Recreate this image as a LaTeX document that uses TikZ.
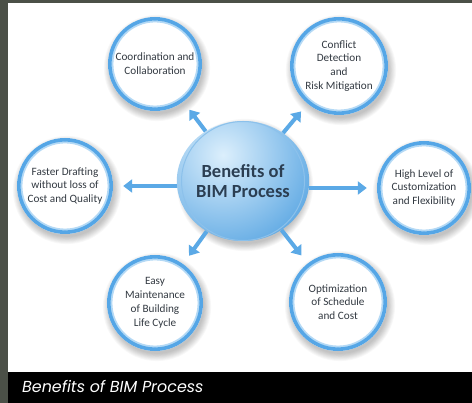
\documentclass[tikz,border=0pt]{standalone}
\usepackage{fontspec}
\setmainfont{Carlito}
\newfontfamily\capfont{Poppins}
\usetikzlibrary{arrows.meta,calc,shapes.geometric}
\definecolor{bggray}{HTML}{4B5047}
\definecolor{ringblue}{HTML}{55A6E6}
\definecolor{ringlight}{HTML}{B4D9F5}
\definecolor{arrblue}{HTML}{5BA9E6}
\definecolor{txt}{HTML}{333A42}
\definecolor{ctxt}{HTML}{2B3E52}
\definecolor{cinner}{HTML}{DCEFFC}
\definecolor{couter}{HTML}{3F97DD}
\tikzset{
  satnode/.style={circle, inner sep=0pt, fill=white, align=center,
    font=\fontsize{11.2}{13.8}\selectfont, text=txt},
  arr/.style={arrblue, line width=4pt, -{Triangle[length=9pt,width=13pt]},
    shorten >=10pt},
}
\newcommand\satel[4]{%
  \foreach \k in {1,...,9}{\fill[black, opacity=0.028] ($(#2)+(2,4)$) circle ({#3+7-\k*0.9});}
  \node[satnode, minimum size={2*#3}] (#1) at (#2) {#4};
  \draw[ringlight, line width=2.2pt] (#1.center) circle ({#3-4.3});
  \draw[ringblue, line width=3.6pt] (#1.center) circle ({#3-1.8});
}
\begin{document}
\begin{tikzpicture}[x=1pt,y=-1pt]
\useasboundingbox (0,0) rectangle (472,403);
\fill[bggray] (0,0) rectangle (472,403);
\fill[white] (8,3) rectangle (472,372);
\fill[black] (8,372) rectangle (472,403);

% satellites
\satel{co}{155,64}{47}{Coordination and\\Collaboration}
\satel{cd}{339,66}{49}{Conflict\\Detection\\and\\Risk Mitigation}
\satel{fd}{65,186}{48}{Faster Drafting\\without loss of\\Cost and Quality}
\satel{hl}{424,188}{47}{High Level of\\Customization\\and Flexibility}
\satel{em}{155,303}{48}{Easy\\Maintenance\\of Building\\Life Cycle}
\satel{os}{338,302}{49}{Optimization\\of Schedule\\and Cost}

% centre
\foreach \k in {1,...,9}{\fill[black, opacity=0.028] (245,185) ellipse ({69-\k*0.9} and {67-\k*0.9});}
\node[ellipse, minimum width=124pt, minimum height=120pt, inner sep=0pt, align=center,
  font=\bfseries\fontsize{18.5}{19.5}\selectfont, text=ctxt,
  path picture={\shade[inner color=cinner, outer color=couter]
    ($(path picture bounding box.center)+(-20,-26)$) circle (125);}]
  (c) at (243,181) {Benefits of\\BIM Process};
\draw[couter!60!white, line width=1pt] (c.center) ellipse (61.5 and 59.5);

% arrows
\draw[arr] (c) -- (co);
\draw[arr] (c) -- (cd);
\draw[arr] (c.west |- fd.east) -- (fd.east);
\draw[arr] (c.east |- hl.west) -- (hl.west);
\draw[arr] (c) -- (em);
\draw[arr] (c) -- (os);

% caption
\node[anchor=base west, inner sep=0pt, text=white,
  font=\capfont\itshape\fontsize{15.9}{18}\selectfont] (cap) at (22,393) {Benefits of BIM Process};
\end{tikzpicture}
\end{document}
